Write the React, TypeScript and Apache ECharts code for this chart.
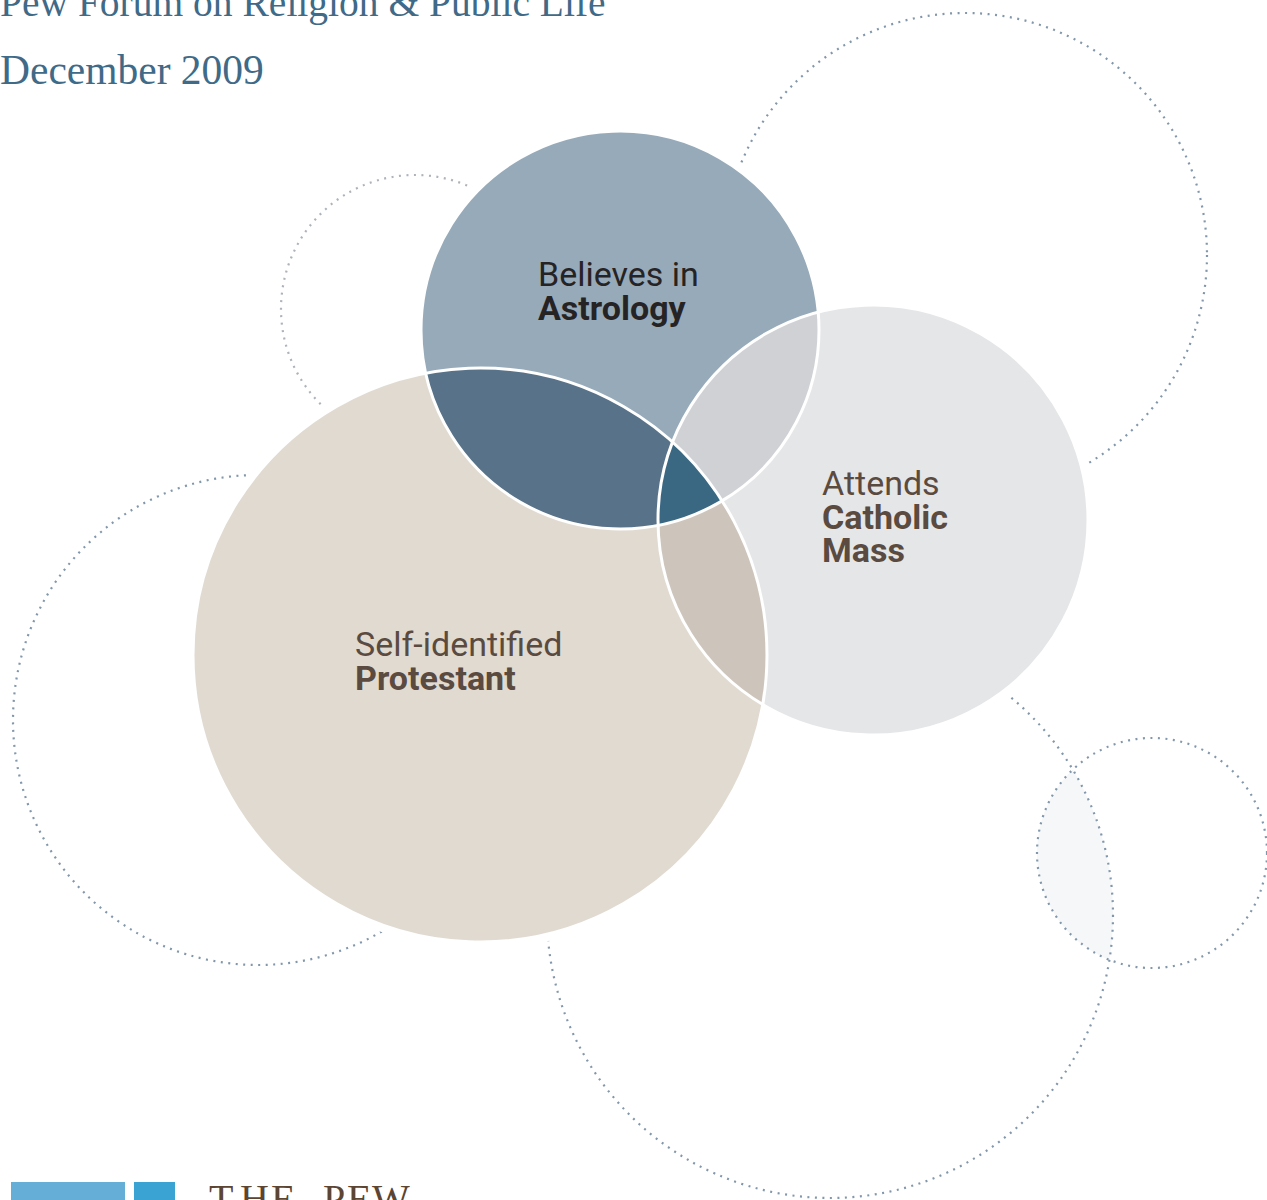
import React, { useEffect, useRef } from "react";
import * as echarts from "echarts";

// ---- Venn sets (centre x, centre y, radius in chart units) ----
const setNames = ["Astrology", "Protestant", "Catholic"];
const setCx = [620, 480, 873];
const setCy = [330, 655, 520];
const setR = [199, 287, 215];

// regions of the Venn diagram as lists of set indices
const regionSets = [[0], [1], [2], [0, 1], [0, 2], [1, 2], [0, 1, 2]];
const regionColors = ["#96aab9", "#e0dad1", "#e5e6e8", "#587289", "#cfd1d5", "#cdc5bc", "#3a6883"];

// ---- set labels ----
const labelLead = ["Believes in", "Self-identified", "Attends"];
const labelMain = [["Astrology"], ["Protestant"], ["Catholic", "Mass"]];

// ---- decorative dotted circles ----
const decoCx = [965, 415, 258, 830, 1152];
const decoCy = [255, 309, 720, 915, 853];
const decoR = [242, 134, 245, 283, 115];
const decoColors = ["#8297ab", "#aeb3b9", "#8297ab", "#8297ab", "#8297ab"];
const decoLens = [[3, 4]];

type Circ = { x: number; y: number; r: number };

function intersectionPolygon(circles: Circ[]): number[][] {
  const pts: number[][] = [];
  const N = 1440;
  const inside = (p: number[], skip: number[]) =>
    circles.every((c, j) => skip.indexOf(j) >= 0 || Math.hypot(p[0] - c.x, p[1] - c.y) <= c.r + 1e-6);
  circles.forEach((c, i) => {
    for (let k = 0; k < N; k++) {
      const a = (2 * Math.PI * k) / N;
      const p = [c.x + c.r * Math.cos(a), c.y + c.r * Math.sin(a)];
      if (inside(p, [i])) pts.push(p);
    }
  });
  for (let i = 0; i < circles.length; i++) {
    for (let j = i + 1; j < circles.length; j++) {
      const c1 = circles[i];
      const c2 = circles[j];
      const dx = c2.x - c1.x;
      const dy = c2.y - c1.y;
      const d = Math.hypot(dx, dy);
      if (d === 0 || d > c1.r + c2.r || d < Math.abs(c1.r - c2.r)) continue;
      const a = (c1.r * c1.r - c2.r * c2.r + d * d) / (2 * d);
      const h = Math.sqrt(Math.max(0, c1.r * c1.r - a * a));
      const bx = c1.x + (a * dx) / d;
      const by = c1.y + (a * dy) / d;
      const cands = [
        [bx - (h * dy) / d, by + (h * dx) / d],
        [bx + (h * dy) / d, by - (h * dx) / d],
      ];
      cands.forEach((p) => {
        if (inside(p, [i, j])) pts.push(p);
      });
    }
  }
  if (!pts.length) return pts;
  const mx = pts.reduce((s, p) => s + p[0], 0) / pts.length;
  const my = pts.reduce((s, p) => s + p[1], 0) / pts.length;
  pts.sort((p, q) => Math.atan2(p[1] - my, p[0] - mx) - Math.atan2(q[1] - my, q[0] - mx));
  return pts;
}

function toPixel(api: any, cx: number, cy: number, r: number): Circ {
  const c = api.coord([cx, cy]);
  const rr = api.size([r, 0])[0];
  return { x: c[0], y: c[1], r: rr };
}

const SERIF = "'Liberation Serif', 'DejaVu Serif', serif";
const SANS = "Roboto, 'Noto Sans', sans-serif";

function txt(text: string, x: number, baseline: number, size: number, weight: string | number, fill: string, family: string, k = 0.342) {
  return {
    type: "text",
    x,
    y: baseline - k * size,
    z: 100,
    silent: true,
    style: {
      text,
      fontSize: size,
      fontWeight: weight,
      fontFamily: family,
      fill,
      verticalAlign: "middle",
      align: "left",
    },
  };
}

function label(i: number, x: number, firstBaseline: number, fill: string) {
  const size = 34;
  const lh = 33.5;
  const lines = ["{r|" + labelLead[i] + "}"].concat(labelMain[i].map((t) => "{b|" + t + "}"));
  return {
    type: "text",
    x,
    y: firstBaseline - lh / 2 - 0.342 * size,
    z: 100,
    silent: true,
    style: {
      text: lines.join("\n"),
      fontSize: size,
      fontFamily: SANS,
      fill,
      lineHeight: lh,
      verticalAlign: "top",
      align: "left",
      rich: {
        r: { fontSize: size, fontFamily: SANS, fontWeight: 400, fill, lineHeight: lh },
        b: { fontSize: size, fontFamily: SANS, fontWeight: 700, fill, lineHeight: lh },
      },
    },
  };
}

export default function App() {
  const ref = useRef<HTMLDivElement>(null);

  useEffect(() => {
    if (!ref.current) return;
    const chart = echarts.init(ref.current, undefined, { renderer: "svg" });

    const vennData = setNames.map((n, i) => ({ name: n, value: [setCx[i], setCy[i], setR[i]] }));
    const decoData = decoCx.map((x, i) => ({ value: [x, decoCy[i], decoR[i]] }));

    const labelDark = "#262324";
    const labelBrown = "#5a4a3f";
    const titleBlue = "#3f6a88";
    const pewBrown = "#5c4532";

    const pewLetters = ["T", "H", "E", "P", "E", "W"];
    const pewX = [209, 240, 271, 323, 347, 372];

    const option: any = {
      animation: false,
      backgroundColor: "#ffffff",
      grid: { left: 0, right: 0, top: 0, bottom: 0 },
      xAxis: { type: "value", min: 0, max: 1267, show: false },
      yAxis: { type: "value", min: 0, max: 1200, inverse: true, show: false },
      series: [
        {
          type: "custom",
          name: "decoLens",
          z: 1,
          silent: true,
          data: decoLens.map((l) => ({ value: l })),
          renderItem: (params: any, api: any) => {
            const idx = decoLens[params.dataIndex];
            const cs = idx.map((k) => toPixel(api, decoCx[k], decoCy[k], decoR[k]));
            return {
              type: "polygon",
              shape: { points: intersectionPolygon(cs) },
              style: { fill: "#f5f7f9", stroke: "none" },
            };
          },
        },
        {
          type: "custom",
          name: "deco",
          z: 2,
          silent: true,
          data: decoData,
          renderItem: (params: any, api: any) => {
            const c = toPixel(api, api.value(0), api.value(1), api.value(2));
            return {
              type: "circle",
              shape: { cx: c.x, cy: c.y, r: c.r },
              style: {
                fill: "none",
                stroke: decoColors[params.dataIndex],
                lineWidth: 2.2,
                lineDash: [2, 5.5],
              },
            };
          },
        },
        {
          type: "custom",
          name: "venn",
          z: 3,
          silent: true,
          data: vennData,
          renderItem: (params: any, api: any) => {
            if (params.dataIndex !== 0) return { type: "group", children: [] };
            const cs = setNames.map((_, i) => toPixel(api, setCx[i], setCy[i], setR[i]));
            const children: any[] = [];
            // white halo to hide the dotted circles near the sets
            cs.forEach((c) =>
              children.push({
                type: "circle",
                shape: { cx: c.x, cy: c.y, r: c.r },
                style: { fill: "#ffffff", stroke: "#ffffff", lineWidth: 14 },
              })
            );
            regionSets.forEach((s, ri) => {
              if (s.length === 1) {
                const c = cs[s[0]];
                children.push({
                  type: "circle",
                  shape: { cx: c.x, cy: c.y, r: c.r },
                  style: { fill: regionColors[ri], stroke: "none" },
                });
              } else {
                children.push({
                  type: "polygon",
                  shape: { points: intersectionPolygon(s.map((k) => cs[k])) },
                  style: { fill: regionColors[ri], stroke: "none" },
                });
              }
            });
            cs.forEach((c) =>
              children.push({
                type: "circle",
                shape: { cx: c.x, cy: c.y, r: c.r },
                style: { fill: "none", stroke: "#ffffff", lineWidth: 3 },
              })
            );
            return { type: "group", children };
          },
        },
      ],
      graphic: [
        txt("Pew Forum on Religion & Public Life", 0, 16, 39.5, 400, titleBlue, SERIF, 0.3375),
        txt("December 2009", 0, 84, 41.5, 400, titleBlue, SERIF, 0.3375),
        label(0, 538, 286, labelDark),
        label(1, 355, 656, labelBrown),
        label(2, 822, 495, labelBrown),
        { type: "rect", z: 100, silent: true, shape: { x: 11, y: 1182, width: 114, height: 20 }, style: { fill: "#65aed7" } },
        { type: "rect", z: 100, silent: true, shape: { x: 134, y: 1182, width: 41, height: 20 }, style: { fill: "#3ba3d3" } },
        ...pewLetters.map((l, i) => txt(l, pewX[i], 1212, 40, 400, pewBrown, SERIF, 0.3375)),
      ],
    };

    chart.setOption(option);
    return () => chart.dispose();
  }, []);

  return (
    <div
      ref={ref}
      style={{ position: "fixed", left: 0, top: 0, width: 1267, height: 1200, background: "#fff" }}
    />
  );
}
